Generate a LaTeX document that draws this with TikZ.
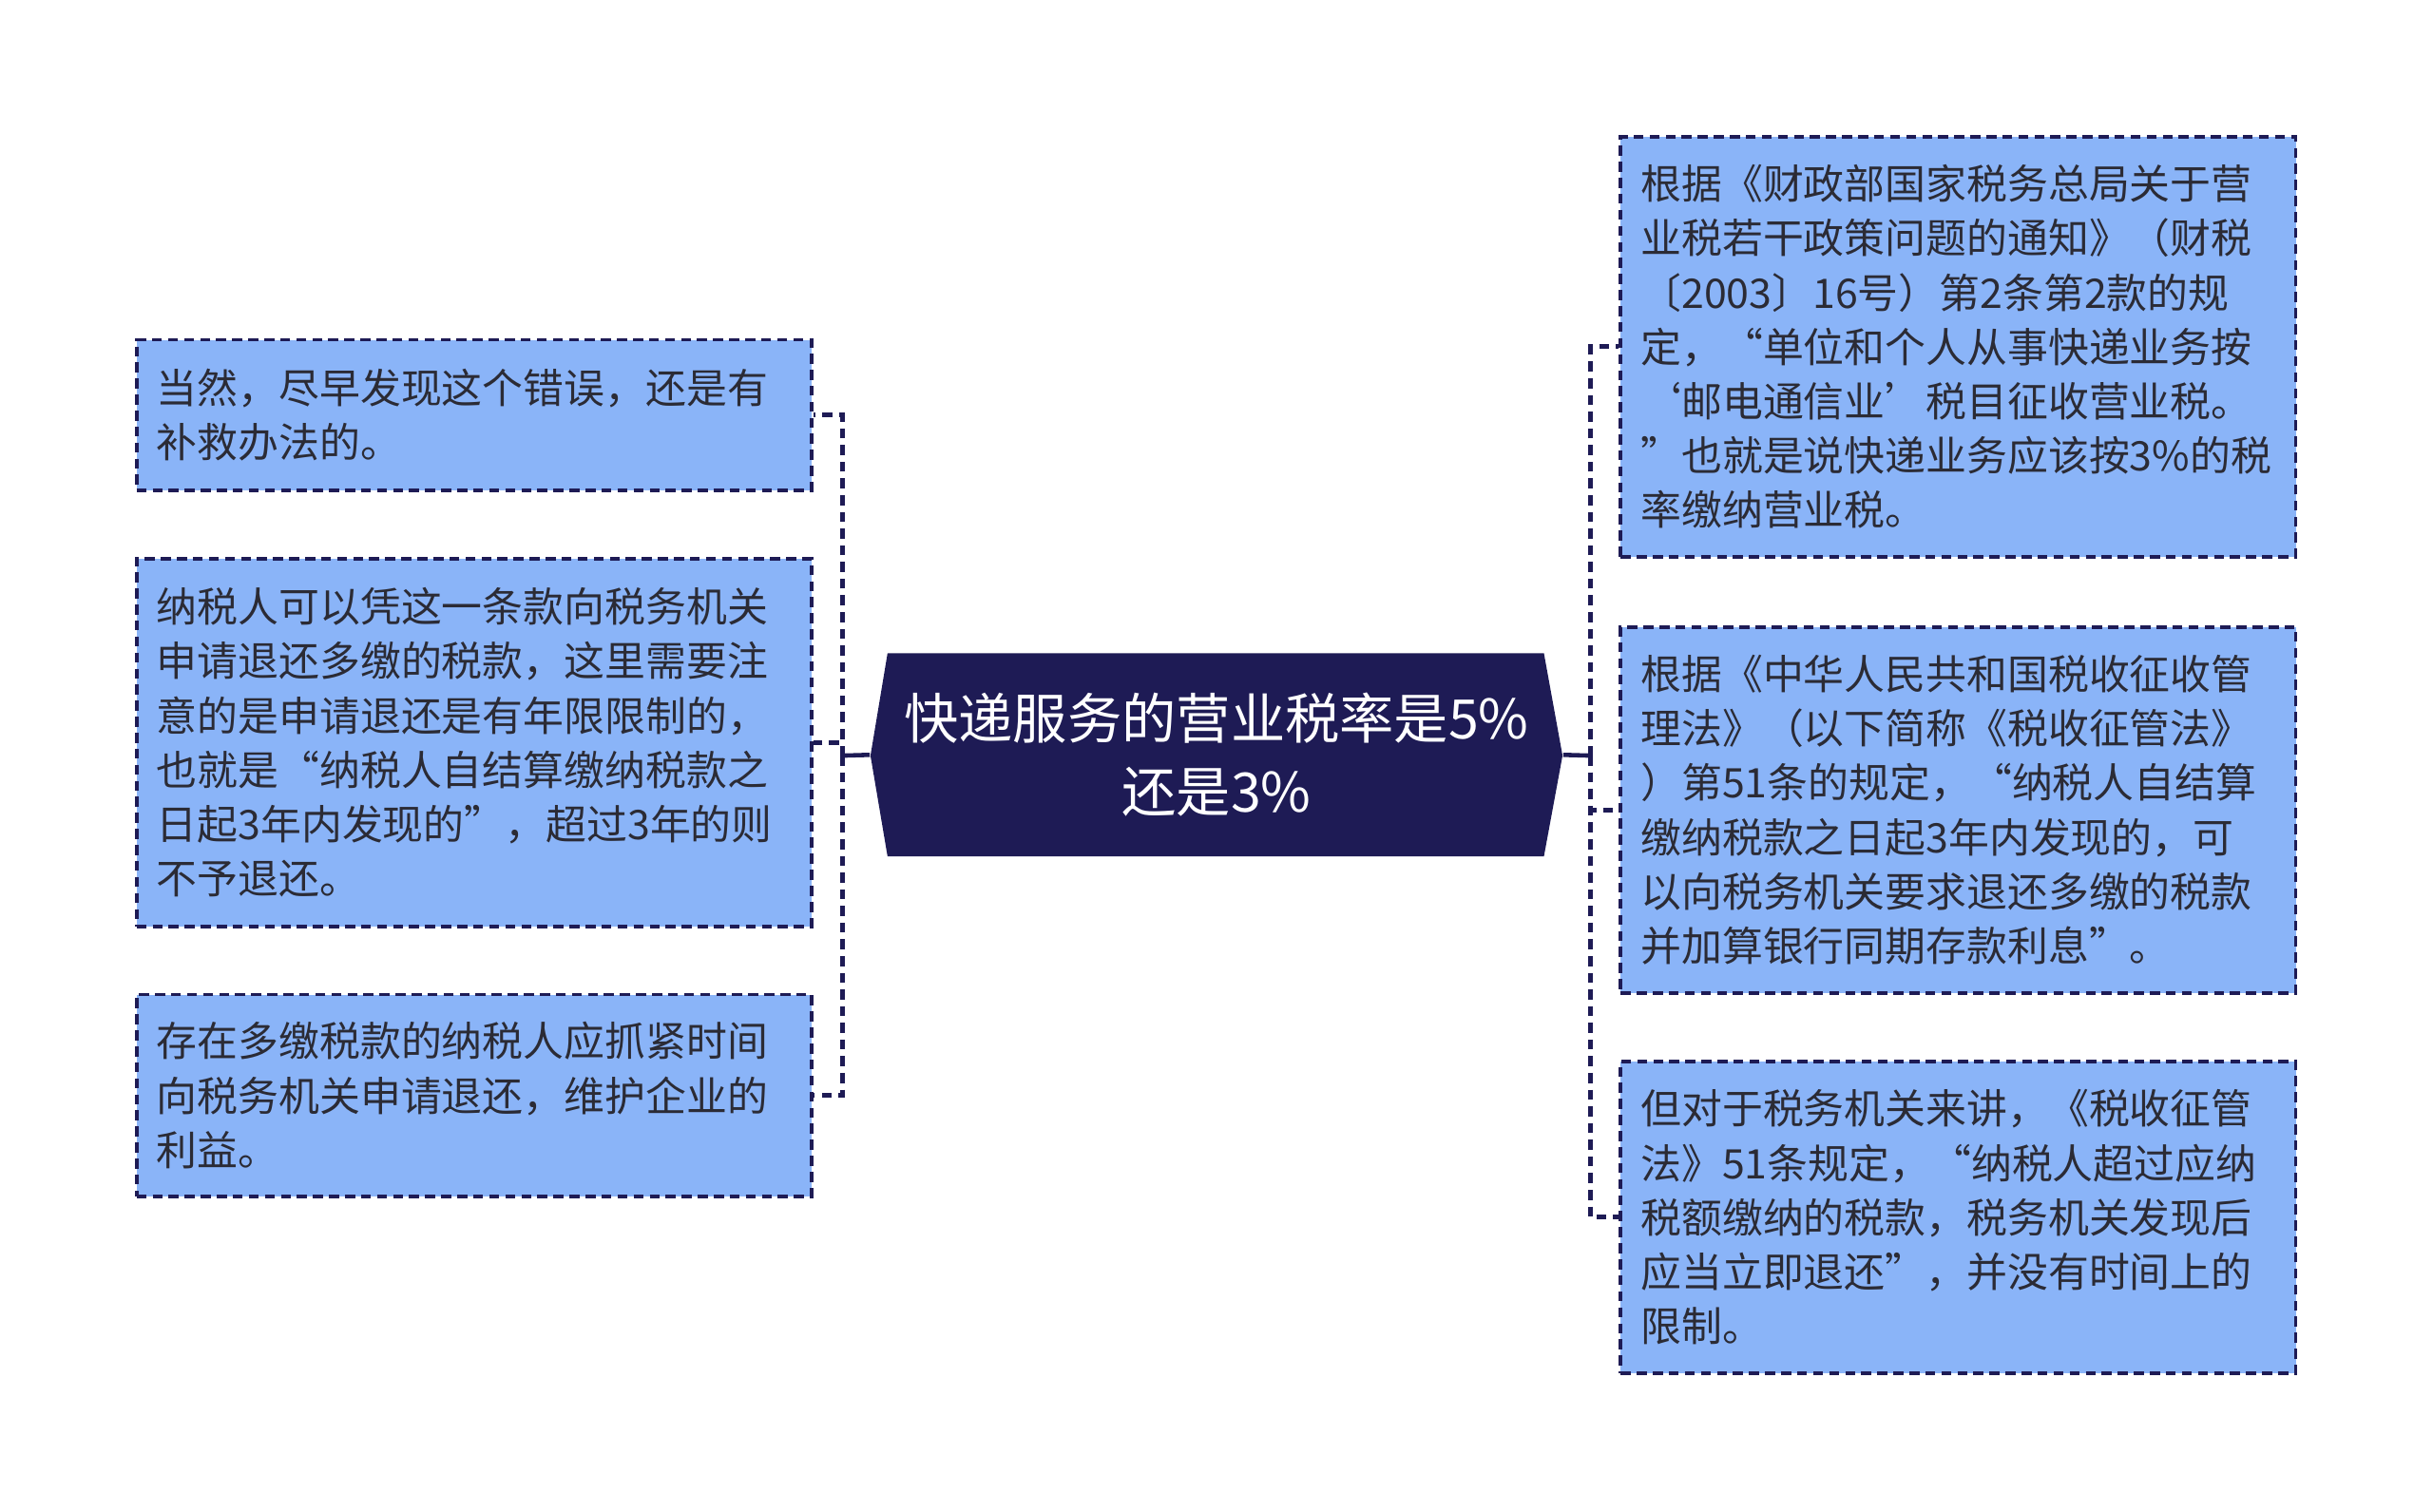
\documentclass[tikz,border=0pt]{standalone}
\usepackage{fontspec}
\newfontfamily\cjk{Noto Sans CJK SC}
\definecolor{boxblue}{HTML}{8AB4F8}
\definecolor{navy}{HTML}{1E1B55}
\definecolor{inkgray}{HTML}{2B2B35}
\begin{document}
\begin{tikzpicture}[x=0.016327cm,y=-0.016327cm,
		leafbox/.style={draw=navy,fill=boxblue,line width=1.1pt,dash pattern=on 3pt off 1.8pt,
			minimum width=7.102cm,inner xsep=0.21cm,inner ysep=0pt,text width=6.68cm,align=left,
			text=inkgray,font=\cjk\fontsize{12.2}{16.26}\selectfont},
		dashlink/.style={draw=navy,line width=1.4pt,dash pattern=on 3pt off 2pt}]
	\useasboundingbox (0,0) rectangle (1568,974);
	% root
	\fill[navy] (561,487) -- (572,421) -- (995,421) -- (1007,487) -- (995,552) -- (572,552) -- cycle;
	\node[text=white,font=\cjk\fontsize{16.3}{21.8}\selectfont,align=center,inner sep=0pt,
		minimum width=7.282cm,minimum height=2.139cm] (root) at (784,486.5) {快递服务的营业税率是5\%\\还是3\%};
	% left side
	\node[leafbox,minimum height=1.584cm] (l1) at (305.5,267.5) {当然，尽早发现这个错误，还是有\\补救办法的。};
	\node[leafbox,minimum height=3.870cm] (l2) at (305.5,478.5) {纳税人可以凭这一条款向税务机关\\申请退还多缴的税款，这里需要注\\意的是申请退还是有年限限制的，\\也就是“纳税人自结算缴纳税款之\\日起3年内发现的”，超过3年的则\\不予退还。};
	\node[leafbox,minimum height=2.122cm] (l3) at (305.5,706) {存在多缴税款的纳税人应抓紧时间\\向税务机关申请退还，维护企业的\\利益。};
	% right side
	\node[leafbox,minimum height=4.425cm] (r1) at (1262,223.5) {根据《财政部国家税务总局关于营\\业税若干政策问题的通知》（财税\\〔2003〕16号）第2条第2款的规\\定，“单位和个人从事快递业务按\\‘邮电通信业’税目征收营业税。\\”也就是说快递业务应该按3\%的税\\率缴纳营业税。};
	\node[leafbox,minimum height=3.853cm] (r2) at (1262,522) {根据《中华人民共和国税收征收管\\理法》（以下简称《税收征管法》\\）第51条的规定，“纳税人自结算\\缴纳税款之日起3年内发现的，可\\以向税务机关要求退还多缴的税款\\并加算银行同期存款利息”。};
	\node[leafbox,minimum height=3.282cm] (r3) at (1262,784.5) {但对于税务机关来讲，《税收征管\\法》51条规定，“纳税人超过应纳\\税额缴纳的税款，税务机关发现后\\应当立即退还”，并没有时间上的\\限制。};
	% connectors
	\coordinate (lt) at (543,487);
	\coordinate (rt) at (1025,487);
	\draw[navy,line width=1.3pt] (root.west) -- (lt);
	\draw[navy,line width=1.3pt] (root.east) -- (rt);
	\foreach \n in {l1,l2,l3}
		\draw[dashlink] (lt) |- (\n.east);
	\foreach \n in {r1,r2,r3}
		\draw[dashlink] (rt) |- (\n.west);
\end{tikzpicture}
\end{document}
